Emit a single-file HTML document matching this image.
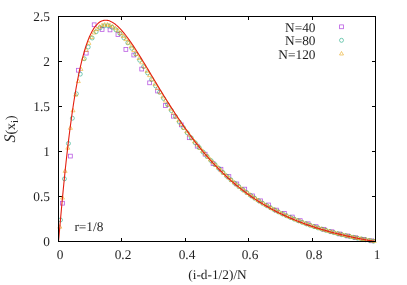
<!DOCTYPE html>
<html><head><meta charset="utf-8"><style>
html,body{margin:0;padding:0;background:#fff}
svg{display:block}
text{font-family:"Liberation Serif",serif;font-size:13.33px;fill:#000;fill-opacity:0.88;stroke:none;text-rendering:geometricPrecision;filter:grayscale(1)}
</style></head><body>
<svg width="407" height="285" viewBox="0 0 407 285">
<rect width="407" height="285" fill="#fff"/>
<g stroke="#000" stroke-width="1" fill="none">
<path d="M58.5,241.5 h3.5 M375.5,241.5 h-3.5"/>
<text x="50" y="246.4" text-anchor="end">0</text>
<path d="M58.5,196.5 h3.5 M375.5,196.5 h-3.5"/>
<text x="50" y="201.4" text-anchor="end">0.5</text>
<path d="M58.5,151.5 h3.5 M375.5,151.5 h-3.5"/>
<text x="50" y="156.4" text-anchor="end">1</text>
<path d="M58.5,106.5 h3.5 M375.5,106.5 h-3.5"/>
<text x="50" y="111.4" text-anchor="end">1.5</text>
<path d="M58.5,61.5 h3.5 M375.5,61.5 h-3.5"/>
<text x="50" y="66.4" text-anchor="end">2</text>
<path d="M58.5,16.5 h3.5 M375.5,16.5 h-3.5"/>
<text x="50" y="21.4" text-anchor="end">2.5</text>
<path d="M58.5,241.5 v-3.5 M58.5,16.5 v3.5"/>
<text x="60.0" y="259.2" text-anchor="middle">0</text>
<path d="M121.5,241.5 v-3.5 M121.5,16.5 v3.5"/>
<text x="123.0" y="259.2" text-anchor="middle">0.2</text>
<path d="M185.5,241.5 v-3.5 M185.5,16.5 v3.5"/>
<text x="187.0" y="259.2" text-anchor="middle">0.4</text>
<path d="M248.5,241.5 v-3.5 M248.5,16.5 v3.5"/>
<text x="250.0" y="259.2" text-anchor="middle">0.6</text>
<path d="M312.5,241.5 v-3.5 M312.5,16.5 v3.5"/>
<text x="314.0" y="259.2" text-anchor="middle">0.8</text>
<path d="M375.5,241.5 v-3.5 M375.5,16.5 v3.5"/>
<text x="377.0" y="259.2" text-anchor="middle">1</text>
</g>
<text x="315.5" y="31.6" text-anchor="end">N=40</text>
<text x="315.5" y="45.1" text-anchor="end">N=80</text>
<text x="315.5" y="58.6" text-anchor="end">N=120</text>
<g stroke-opacity="0.65"><rect x="339.60" y="24.90" width="3.8" height="3.8" fill="none" stroke="#9400D3" stroke-width="0.8"/>
<circle cx="341.50" cy="40.30" r="2.0" fill="none" stroke="#009E73" stroke-width="0.8"/>
<path d="M341.50,51.50 L343.50,55.00 L339.50,55.00 Z" fill="none" stroke="#E69F00" stroke-width="0.8"/></g>
<g stroke-opacity="0.65">
<rect x="60.56" y="201.30" width="3.8" height="3.8" fill="none" stroke="#9400D3" stroke-width="0.8"/>
<rect x="68.49" y="154.19" width="3.8" height="3.8" fill="none" stroke="#9400D3" stroke-width="0.8"/>
<rect x="76.41" y="68.33" width="3.8" height="3.8" fill="none" stroke="#9400D3" stroke-width="0.8"/>
<rect x="84.34" y="51.23" width="3.8" height="3.8" fill="none" stroke="#9400D3" stroke-width="0.8"/>
<rect x="92.26" y="22.88" width="3.8" height="3.8" fill="none" stroke="#9400D3" stroke-width="0.8"/>
<rect x="100.19" y="27.56" width="3.8" height="3.8" fill="none" stroke="#9400D3" stroke-width="0.8"/>
<rect x="108.11" y="28.01" width="3.8" height="3.8" fill="none" stroke="#9400D3" stroke-width="0.8"/>
<rect x="116.04" y="32.60" width="3.8" height="3.8" fill="none" stroke="#9400D3" stroke-width="0.8"/>
<rect x="123.96" y="47.54" width="3.8" height="3.8" fill="none" stroke="#9400D3" stroke-width="0.8"/>
<rect x="131.89" y="53.12" width="3.8" height="3.8" fill="none" stroke="#9400D3" stroke-width="0.8"/>
<rect x="139.81" y="67.16" width="3.8" height="3.8" fill="none" stroke="#9400D3" stroke-width="0.8"/>
<rect x="147.74" y="80.93" width="3.8" height="3.8" fill="none" stroke="#9400D3" stroke-width="0.8"/>
<rect x="155.66" y="89.12" width="3.8" height="3.8" fill="none" stroke="#9400D3" stroke-width="0.8"/>
<rect x="163.59" y="103.61" width="3.8" height="3.8" fill="none" stroke="#9400D3" stroke-width="0.8"/>
<rect x="171.51" y="114.32" width="3.8" height="3.8" fill="none" stroke="#9400D3" stroke-width="0.8"/>
<rect x="179.44" y="122.96" width="3.8" height="3.8" fill="none" stroke="#9400D3" stroke-width="0.8"/>
<rect x="187.36" y="135.83" width="3.8" height="3.8" fill="none" stroke="#9400D3" stroke-width="0.8"/>
<rect x="195.29" y="144.29" width="3.8" height="3.8" fill="none" stroke="#9400D3" stroke-width="0.8"/>
<rect x="203.21" y="152.30" width="3.8" height="3.8" fill="none" stroke="#9400D3" stroke-width="0.8"/>
<rect x="211.14" y="161.66" width="3.8" height="3.8" fill="none" stroke="#9400D3" stroke-width="0.8"/>
<rect x="219.06" y="167.33" width="3.8" height="3.8" fill="none" stroke="#9400D3" stroke-width="0.8"/>
<rect x="226.99" y="174.62" width="3.8" height="3.8" fill="none" stroke="#9400D3" stroke-width="0.8"/>
<rect x="234.91" y="182.00" width="3.8" height="3.8" fill="none" stroke="#9400D3" stroke-width="0.8"/>
<rect x="242.84" y="187.22" width="3.8" height="3.8" fill="none" stroke="#9400D3" stroke-width="0.8"/>
<rect x="250.76" y="193.97" width="3.8" height="3.8" fill="none" stroke="#9400D3" stroke-width="0.8"/>
<rect x="258.69" y="198.92" width="3.8" height="3.8" fill="none" stroke="#9400D3" stroke-width="0.8"/>
<rect x="266.61" y="203.06" width="3.8" height="3.8" fill="none" stroke="#9400D3" stroke-width="0.8"/>
<rect x="274.54" y="208.19" width="3.8" height="3.8" fill="none" stroke="#9400D3" stroke-width="0.8"/>
<rect x="282.46" y="211.43" width="3.8" height="3.8" fill="none" stroke="#9400D3" stroke-width="0.8"/>
<rect x="290.39" y="215.12" width="3.8" height="3.8" fill="none" stroke="#9400D3" stroke-width="0.8"/>
<rect x="298.31" y="218.72" width="3.8" height="3.8" fill="none" stroke="#9400D3" stroke-width="0.8"/>
<rect x="306.24" y="221.86" width="3.8" height="3.8" fill="none" stroke="#9400D3" stroke-width="0.8"/>
<rect x="314.16" y="224.74" width="3.8" height="3.8" fill="none" stroke="#9400D3" stroke-width="0.8"/>
<rect x="322.09" y="227.38" width="3.8" height="3.8" fill="none" stroke="#9400D3" stroke-width="0.8"/>
<rect x="330.01" y="229.83" width="3.8" height="3.8" fill="none" stroke="#9400D3" stroke-width="0.8"/>
<rect x="337.94" y="232.08" width="3.8" height="3.8" fill="none" stroke="#9400D3" stroke-width="0.8"/>
<rect x="345.86" y="234.08" width="3.8" height="3.8" fill="none" stroke="#9400D3" stroke-width="0.8"/>
<rect x="353.79" y="235.83" width="3.8" height="3.8" fill="none" stroke="#9400D3" stroke-width="0.8"/>
<rect x="361.71" y="237.44" width="3.8" height="3.8" fill="none" stroke="#9400D3" stroke-width="0.8"/>
<rect x="369.64" y="238.92" width="3.8" height="3.8" fill="none" stroke="#9400D3" stroke-width="0.8"/>
<circle cx="60.48" cy="219.95" r="2.0" fill="none" stroke="#009E73" stroke-width="0.8"/>
<circle cx="64.44" cy="178.86" r="2.0" fill="none" stroke="#009E73" stroke-width="0.8"/>
<circle cx="68.41" cy="143.49" r="2.0" fill="none" stroke="#009E73" stroke-width="0.8"/>
<circle cx="72.37" cy="118.19" r="2.0" fill="none" stroke="#009E73" stroke-width="0.8"/>
<circle cx="76.33" cy="93.77" r="2.0" fill="none" stroke="#009E73" stroke-width="0.8"/>
<circle cx="80.29" cy="74.11" r="2.0" fill="none" stroke="#009E73" stroke-width="0.8"/>
<circle cx="84.26" cy="58.71" r="2.0" fill="none" stroke="#009E73" stroke-width="0.8"/>
<circle cx="88.22" cy="47.00" r="2.0" fill="none" stroke="#009E73" stroke-width="0.8"/>
<circle cx="92.18" cy="38.00" r="2.0" fill="none" stroke="#009E73" stroke-width="0.8"/>
<circle cx="96.14" cy="31.74" r="2.0" fill="none" stroke="#009E73" stroke-width="0.8"/>
<circle cx="100.11" cy="27.83" r="2.0" fill="none" stroke="#009E73" stroke-width="0.8"/>
<circle cx="104.07" cy="25.91" r="2.0" fill="none" stroke="#009E73" stroke-width="0.8"/>
<circle cx="108.03" cy="25.82" r="2.0" fill="none" stroke="#009E73" stroke-width="0.8"/>
<circle cx="111.99" cy="27.26" r="2.0" fill="none" stroke="#009E73" stroke-width="0.8"/>
<circle cx="115.96" cy="29.88" r="2.0" fill="none" stroke="#009E73" stroke-width="0.8"/>
<circle cx="119.92" cy="33.46" r="2.0" fill="none" stroke="#009E73" stroke-width="0.8"/>
<circle cx="123.88" cy="37.82" r="2.0" fill="none" stroke="#009E73" stroke-width="0.8"/>
<circle cx="127.84" cy="42.80" r="2.0" fill="none" stroke="#009E73" stroke-width="0.8"/>
<circle cx="131.81" cy="48.27" r="2.0" fill="none" stroke="#009E73" stroke-width="0.8"/>
<circle cx="135.77" cy="54.12" r="2.0" fill="none" stroke="#009E73" stroke-width="0.8"/>
<circle cx="139.73" cy="60.23" r="2.0" fill="none" stroke="#009E73" stroke-width="0.8"/>
<circle cx="143.69" cy="66.53" r="2.0" fill="none" stroke="#009E73" stroke-width="0.8"/>
<circle cx="147.66" cy="72.95" r="2.0" fill="none" stroke="#009E73" stroke-width="0.8"/>
<circle cx="151.62" cy="79.43" r="2.0" fill="none" stroke="#009E73" stroke-width="0.8"/>
<circle cx="155.58" cy="85.85" r="2.0" fill="none" stroke="#009E73" stroke-width="0.8"/>
<circle cx="159.54" cy="92.17" r="2.0" fill="none" stroke="#009E73" stroke-width="0.8"/>
<circle cx="163.51" cy="98.42" r="2.0" fill="none" stroke="#009E73" stroke-width="0.8"/>
<circle cx="167.47" cy="104.57" r="2.0" fill="none" stroke="#009E73" stroke-width="0.8"/>
<circle cx="171.43" cy="110.59" r="2.0" fill="none" stroke="#009E73" stroke-width="0.8"/>
<circle cx="175.39" cy="116.46" r="2.0" fill="none" stroke="#009E73" stroke-width="0.8"/>
<circle cx="179.36" cy="122.10" r="2.0" fill="none" stroke="#009E73" stroke-width="0.8"/>
<circle cx="183.32" cy="127.56" r="2.0" fill="none" stroke="#009E73" stroke-width="0.8"/>
<circle cx="187.28" cy="132.83" r="2.0" fill="none" stroke="#009E73" stroke-width="0.8"/>
<circle cx="191.24" cy="137.92" r="2.0" fill="none" stroke="#009E73" stroke-width="0.8"/>
<circle cx="195.21" cy="142.83" r="2.0" fill="none" stroke="#009E73" stroke-width="0.8"/>
<circle cx="199.17" cy="147.54" r="2.0" fill="none" stroke="#009E73" stroke-width="0.8"/>
<circle cx="203.13" cy="152.09" r="2.0" fill="none" stroke="#009E73" stroke-width="0.8"/>
<circle cx="207.09" cy="156.44" r="2.0" fill="none" stroke="#009E73" stroke-width="0.8"/>
<circle cx="211.06" cy="160.60" r="2.0" fill="none" stroke="#009E73" stroke-width="0.8"/>
<circle cx="215.02" cy="164.58" r="2.0" fill="none" stroke="#009E73" stroke-width="0.8"/>
<circle cx="218.98" cy="168.53" r="2.0" fill="none" stroke="#009E73" stroke-width="0.8"/>
<circle cx="222.94" cy="172.46" r="2.0" fill="none" stroke="#009E73" stroke-width="0.8"/>
<circle cx="226.91" cy="176.21" r="2.0" fill="none" stroke="#009E73" stroke-width="0.8"/>
<circle cx="230.87" cy="179.80" r="2.0" fill="none" stroke="#009E73" stroke-width="0.8"/>
<circle cx="234.83" cy="183.23" r="2.0" fill="none" stroke="#009E73" stroke-width="0.8"/>
<circle cx="238.79" cy="186.50" r="2.0" fill="none" stroke="#009E73" stroke-width="0.8"/>
<circle cx="242.76" cy="189.62" r="2.0" fill="none" stroke="#009E73" stroke-width="0.8"/>
<circle cx="246.72" cy="192.60" r="2.0" fill="none" stroke="#009E73" stroke-width="0.8"/>
<circle cx="250.68" cy="195.44" r="2.0" fill="none" stroke="#009E73" stroke-width="0.8"/>
<circle cx="254.64" cy="198.15" r="2.0" fill="none" stroke="#009E73" stroke-width="0.8"/>
<circle cx="258.61" cy="200.73" r="2.0" fill="none" stroke="#009E73" stroke-width="0.8"/>
<circle cx="262.57" cy="203.19" r="2.0" fill="none" stroke="#009E73" stroke-width="0.8"/>
<circle cx="266.53" cy="205.53" r="2.0" fill="none" stroke="#009E73" stroke-width="0.8"/>
<circle cx="270.49" cy="207.77" r="2.0" fill="none" stroke="#009E73" stroke-width="0.8"/>
<circle cx="274.46" cy="209.90" r="2.0" fill="none" stroke="#009E73" stroke-width="0.8"/>
<circle cx="278.42" cy="211.92" r="2.0" fill="none" stroke="#009E73" stroke-width="0.8"/>
<circle cx="282.38" cy="213.86" r="2.0" fill="none" stroke="#009E73" stroke-width="0.8"/>
<circle cx="286.34" cy="215.70" r="2.0" fill="none" stroke="#009E73" stroke-width="0.8"/>
<circle cx="290.31" cy="217.45" r="2.0" fill="none" stroke="#009E73" stroke-width="0.8"/>
<circle cx="294.27" cy="219.13" r="2.0" fill="none" stroke="#009E73" stroke-width="0.8"/>
<circle cx="298.23" cy="220.75" r="2.0" fill="none" stroke="#009E73" stroke-width="0.8"/>
<circle cx="302.19" cy="222.32" r="2.0" fill="none" stroke="#009E73" stroke-width="0.8"/>
<circle cx="306.16" cy="223.82" r="2.0" fill="none" stroke="#009E73" stroke-width="0.8"/>
<circle cx="310.12" cy="225.25" r="2.0" fill="none" stroke="#009E73" stroke-width="0.8"/>
<circle cx="314.08" cy="226.62" r="2.0" fill="none" stroke="#009E73" stroke-width="0.8"/>
<circle cx="318.04" cy="227.93" r="2.0" fill="none" stroke="#009E73" stroke-width="0.8"/>
<circle cx="322.01" cy="229.19" r="2.0" fill="none" stroke="#009E73" stroke-width="0.8"/>
<circle cx="325.97" cy="230.39" r="2.0" fill="none" stroke="#009E73" stroke-width="0.8"/>
<circle cx="329.93" cy="231.54" r="2.0" fill="none" stroke="#009E73" stroke-width="0.8"/>
<circle cx="333.89" cy="232.65" r="2.0" fill="none" stroke="#009E73" stroke-width="0.8"/>
<circle cx="337.86" cy="233.71" r="2.0" fill="none" stroke="#009E73" stroke-width="0.8"/>
<circle cx="341.82" cy="234.68" r="2.0" fill="none" stroke="#009E73" stroke-width="0.8"/>
<circle cx="345.78" cy="235.62" r="2.0" fill="none" stroke="#009E73" stroke-width="0.8"/>
<circle cx="349.74" cy="236.51" r="2.0" fill="none" stroke="#009E73" stroke-width="0.8"/>
<circle cx="353.71" cy="237.38" r="2.0" fill="none" stroke="#009E73" stroke-width="0.8"/>
<circle cx="357.67" cy="238.20" r="2.0" fill="none" stroke="#009E73" stroke-width="0.8"/>
<circle cx="361.63" cy="239.00" r="2.0" fill="none" stroke="#009E73" stroke-width="0.8"/>
<circle cx="365.59" cy="239.76" r="2.0" fill="none" stroke="#009E73" stroke-width="0.8"/>
<circle cx="369.56" cy="240.49" r="2.0" fill="none" stroke="#009E73" stroke-width="0.8"/>
<circle cx="373.52" cy="241.18" r="2.0" fill="none" stroke="#009E73" stroke-width="0.8"/>
<path d="M59.82,224.66 L61.82,228.16 L57.82,228.16 Z" fill="none" stroke="#E69F00" stroke-width="0.8"/>
<path d="M62.46,195.58 L64.46,199.08 L60.46,199.08 Z" fill="none" stroke="#E69F00" stroke-width="0.8"/>
<path d="M65.10,168.87 L67.10,172.37 L63.10,172.37 Z" fill="none" stroke="#E69F00" stroke-width="0.8"/>
<path d="M67.75,145.71 L69.75,149.21 L65.75,149.21 Z" fill="none" stroke="#E69F00" stroke-width="0.8"/>
<path d="M70.39,125.80 L72.39,129.30 L68.39,129.30 Z" fill="none" stroke="#E69F00" stroke-width="0.8"/>
<path d="M73.03,108.34 L75.03,111.84 L71.03,111.84 Z" fill="none" stroke="#E69F00" stroke-width="0.8"/>
<path d="M75.67,92.63 L77.67,96.13 L73.67,96.13 Z" fill="none" stroke="#E69F00" stroke-width="0.8"/>
<path d="M78.31,79.11 L80.31,82.61 L76.31,82.61 Z" fill="none" stroke="#E69F00" stroke-width="0.8"/>
<path d="M80.95,66.94 L82.95,70.44 L78.95,70.44 Z" fill="none" stroke="#E69F00" stroke-width="0.8"/>
<path d="M83.60,56.63 L85.60,60.13 L81.60,60.13 Z" fill="none" stroke="#E69F00" stroke-width="0.8"/>
<path d="M86.24,48.00 L88.24,51.50 L84.24,51.50 Z" fill="none" stroke="#E69F00" stroke-width="0.8"/>
<path d="M88.88,40.90 L90.88,44.40 L86.88,44.40 Z" fill="none" stroke="#E69F00" stroke-width="0.8"/>
<path d="M91.52,35.09 L93.52,38.59 L89.52,38.59 Z" fill="none" stroke="#E69F00" stroke-width="0.8"/>
<path d="M94.16,30.52 L96.16,34.02 L92.16,34.02 Z" fill="none" stroke="#E69F00" stroke-width="0.8"/>
<path d="M96.80,27.09 L98.80,30.59 L94.80,30.59 Z" fill="none" stroke="#E69F00" stroke-width="0.8"/>
<path d="M99.45,24.67 L101.45,28.17 L97.45,28.17 Z" fill="none" stroke="#E69F00" stroke-width="0.8"/>
<path d="M102.09,23.17 L104.09,26.67 L100.09,26.67 Z" fill="none" stroke="#E69F00" stroke-width="0.8"/>
<path d="M104.73,22.47 L106.73,25.97 L102.73,25.97 Z" fill="none" stroke="#E69F00" stroke-width="0.8"/>
<path d="M107.37,22.51 L109.37,26.01 L105.37,26.01 Z" fill="none" stroke="#E69F00" stroke-width="0.8"/>
<path d="M110.01,23.19 L112.01,26.69 L108.01,26.69 Z" fill="none" stroke="#E69F00" stroke-width="0.8"/>
<path d="M112.65,24.45 L114.65,27.95 L110.65,27.95 Z" fill="none" stroke="#E69F00" stroke-width="0.8"/>
<path d="M115.30,26.21 L117.30,29.71 L113.30,29.71 Z" fill="none" stroke="#E69F00" stroke-width="0.8"/>
<path d="M117.94,28.41 L119.94,31.91 L115.94,31.91 Z" fill="none" stroke="#E69F00" stroke-width="0.8"/>
<path d="M120.58,30.99 L122.58,34.49 L118.58,34.49 Z" fill="none" stroke="#E69F00" stroke-width="0.8"/>
<path d="M123.22,33.91 L125.22,37.41 L121.22,37.41 Z" fill="none" stroke="#E69F00" stroke-width="0.8"/>
<path d="M125.86,37.12 L127.86,40.62 L123.86,40.62 Z" fill="none" stroke="#E69F00" stroke-width="0.8"/>
<path d="M128.50,40.57 L130.50,44.07 L126.50,44.07 Z" fill="none" stroke="#E69F00" stroke-width="0.8"/>
<path d="M131.15,44.23 L133.15,47.73 L129.15,47.73 Z" fill="none" stroke="#E69F00" stroke-width="0.8"/>
<path d="M133.79,48.06 L135.79,51.56 L131.79,51.56 Z" fill="none" stroke="#E69F00" stroke-width="0.8"/>
<path d="M136.43,52.03 L138.43,55.53 L134.43,55.53 Z" fill="none" stroke="#E69F00" stroke-width="0.8"/>
<path d="M139.07,56.12 L141.07,59.62 L137.07,59.62 Z" fill="none" stroke="#E69F00" stroke-width="0.8"/>
<path d="M141.71,60.30 L143.71,63.80 L139.71,63.80 Z" fill="none" stroke="#E69F00" stroke-width="0.8"/>
<path d="M144.35,64.54 L146.35,68.04 L142.35,68.04 Z" fill="none" stroke="#E69F00" stroke-width="0.8"/>
<path d="M147.00,68.83 L149.00,72.33 L145.00,72.33 Z" fill="none" stroke="#E69F00" stroke-width="0.8"/>
<path d="M149.64,73.15 L151.64,76.65 L147.64,76.65 Z" fill="none" stroke="#E69F00" stroke-width="0.8"/>
<path d="M152.28,77.48 L154.28,80.98 L150.28,80.98 Z" fill="none" stroke="#E69F00" stroke-width="0.8"/>
<path d="M154.92,81.78 L156.92,85.28 L152.92,85.28 Z" fill="none" stroke="#E69F00" stroke-width="0.8"/>
<path d="M157.56,86.03 L159.56,89.53 L155.56,89.53 Z" fill="none" stroke="#E69F00" stroke-width="0.8"/>
<path d="M160.20,90.25 L162.20,93.75 L158.20,93.75 Z" fill="none" stroke="#E69F00" stroke-width="0.8"/>
<path d="M162.85,94.44 L164.85,97.94 L160.85,97.94 Z" fill="none" stroke="#E69F00" stroke-width="0.8"/>
<path d="M165.49,98.59 L167.49,102.09 L163.49,102.09 Z" fill="none" stroke="#E69F00" stroke-width="0.8"/>
<path d="M168.13,102.68 L170.13,106.18 L166.13,106.18 Z" fill="none" stroke="#E69F00" stroke-width="0.8"/>
<path d="M170.77,106.71 L172.77,110.21 L168.77,110.21 Z" fill="none" stroke="#E69F00" stroke-width="0.8"/>
<path d="M173.41,110.68 L175.41,114.18 L171.41,114.18 Z" fill="none" stroke="#E69F00" stroke-width="0.8"/>
<path d="M176.05,114.58 L178.05,118.08 L174.05,118.08 Z" fill="none" stroke="#E69F00" stroke-width="0.8"/>
<path d="M178.70,118.37 L180.70,121.87 L176.70,121.87 Z" fill="none" stroke="#E69F00" stroke-width="0.8"/>
<path d="M181.34,122.08 L183.34,125.58 L179.34,125.58 Z" fill="none" stroke="#E69F00" stroke-width="0.8"/>
<path d="M183.98,125.71 L185.98,129.21 L181.98,129.21 Z" fill="none" stroke="#E69F00" stroke-width="0.8"/>
<path d="M186.62,129.26 L188.62,132.76 L184.62,132.76 Z" fill="none" stroke="#E69F00" stroke-width="0.8"/>
<path d="M189.26,132.73 L191.26,136.23 L187.26,136.23 Z" fill="none" stroke="#E69F00" stroke-width="0.8"/>
<path d="M191.90,136.11 L193.90,139.61 L189.90,139.61 Z" fill="none" stroke="#E69F00" stroke-width="0.8"/>
<path d="M194.55,139.41 L196.55,142.91 L192.55,142.91 Z" fill="none" stroke="#E69F00" stroke-width="0.8"/>
<path d="M197.19,142.63 L199.19,146.13 L195.19,146.13 Z" fill="none" stroke="#E69F00" stroke-width="0.8"/>
<path d="M199.83,145.77 L201.83,149.27 L197.83,149.27 Z" fill="none" stroke="#E69F00" stroke-width="0.8"/>
<path d="M202.47,148.84 L204.47,152.34 L200.47,152.34 Z" fill="none" stroke="#E69F00" stroke-width="0.8"/>
<path d="M205.11,151.82 L207.11,155.32 L203.11,155.32 Z" fill="none" stroke="#E69F00" stroke-width="0.8"/>
<path d="M207.75,154.71 L209.75,158.21 L205.75,158.21 Z" fill="none" stroke="#E69F00" stroke-width="0.8"/>
<path d="M210.40,157.53 L212.40,161.03 L208.40,161.03 Z" fill="none" stroke="#E69F00" stroke-width="0.8"/>
<path d="M213.04,160.26 L215.04,163.76 L211.04,163.76 Z" fill="none" stroke="#E69F00" stroke-width="0.8"/>
<path d="M215.68,162.91 L217.68,166.41 L213.68,166.41 Z" fill="none" stroke="#E69F00" stroke-width="0.8"/>
<path d="M218.32,165.56 L220.32,169.06 L216.32,169.06 Z" fill="none" stroke="#E69F00" stroke-width="0.8"/>
<path d="M220.96,168.21 L222.96,171.71 L218.96,171.71 Z" fill="none" stroke="#E69F00" stroke-width="0.8"/>
<path d="M223.60,170.79 L225.60,174.29 L221.60,174.29 Z" fill="none" stroke="#E69F00" stroke-width="0.8"/>
<path d="M226.25,173.30 L228.25,176.80 L224.25,176.80 Z" fill="none" stroke="#E69F00" stroke-width="0.8"/>
<path d="M228.89,175.73 L230.89,179.23 L226.89,179.23 Z" fill="none" stroke="#E69F00" stroke-width="0.8"/>
<path d="M231.53,178.08 L233.53,181.58 L229.53,181.58 Z" fill="none" stroke="#E69F00" stroke-width="0.8"/>
<path d="M234.17,180.37 L236.17,183.87 L232.17,183.87 Z" fill="none" stroke="#E69F00" stroke-width="0.8"/>
<path d="M236.81,182.58 L238.81,186.08 L234.81,186.08 Z" fill="none" stroke="#E69F00" stroke-width="0.8"/>
<path d="M239.45,184.73 L241.45,188.23 L237.45,188.23 Z" fill="none" stroke="#E69F00" stroke-width="0.8"/>
<path d="M242.10,186.81 L244.10,190.31 L240.10,190.31 Z" fill="none" stroke="#E69F00" stroke-width="0.8"/>
<path d="M244.74,188.83 L246.74,192.33 L242.74,192.33 Z" fill="none" stroke="#E69F00" stroke-width="0.8"/>
<path d="M247.38,190.78 L249.38,194.28 L245.38,194.28 Z" fill="none" stroke="#E69F00" stroke-width="0.8"/>
<path d="M250.02,192.68 L252.02,196.18 L248.02,196.18 Z" fill="none" stroke="#E69F00" stroke-width="0.8"/>
<path d="M252.66,194.51 L254.66,198.01 L250.66,198.01 Z" fill="none" stroke="#E69F00" stroke-width="0.8"/>
<path d="M255.30,196.29 L257.30,199.79 L253.30,199.79 Z" fill="none" stroke="#E69F00" stroke-width="0.8"/>
<path d="M257.95,198.01 L259.95,201.51 L255.95,201.51 Z" fill="none" stroke="#E69F00" stroke-width="0.8"/>
<path d="M260.59,199.67 L262.59,203.17 L258.59,203.17 Z" fill="none" stroke="#E69F00" stroke-width="0.8"/>
<path d="M263.23,201.29 L265.23,204.79 L261.23,204.79 Z" fill="none" stroke="#E69F00" stroke-width="0.8"/>
<path d="M265.87,202.85 L267.87,206.35 L263.87,206.35 Z" fill="none" stroke="#E69F00" stroke-width="0.8"/>
<path d="M268.51,204.36 L270.51,207.86 L266.51,207.86 Z" fill="none" stroke="#E69F00" stroke-width="0.8"/>
<path d="M271.15,205.83 L273.15,209.33 L269.15,209.33 Z" fill="none" stroke="#E69F00" stroke-width="0.8"/>
<path d="M273.80,207.25 L275.80,210.75 L271.80,210.75 Z" fill="none" stroke="#E69F00" stroke-width="0.8"/>
<path d="M276.44,208.62 L278.44,212.12 L274.44,212.12 Z" fill="none" stroke="#E69F00" stroke-width="0.8"/>
<path d="M279.08,209.95 L281.08,213.45 L277.08,213.45 Z" fill="none" stroke="#E69F00" stroke-width="0.8"/>
<path d="M281.72,211.24 L283.72,214.74 L279.72,214.74 Z" fill="none" stroke="#E69F00" stroke-width="0.8"/>
<path d="M284.36,212.49 L286.36,215.99 L282.36,215.99 Z" fill="none" stroke="#E69F00" stroke-width="0.8"/>
<path d="M287.00,213.70 L289.00,217.20 L285.00,217.20 Z" fill="none" stroke="#E69F00" stroke-width="0.8"/>
<path d="M289.65,214.87 L291.65,218.37 L287.65,218.37 Z" fill="none" stroke="#E69F00" stroke-width="0.8"/>
<path d="M292.29,216.00 L294.29,219.50 L290.29,219.50 Z" fill="none" stroke="#E69F00" stroke-width="0.8"/>
<path d="M294.93,217.10 L296.93,220.60 L292.93,220.60 Z" fill="none" stroke="#E69F00" stroke-width="0.8"/>
<path d="M297.57,218.18 L299.57,221.68 L295.57,221.68 Z" fill="none" stroke="#E69F00" stroke-width="0.8"/>
<path d="M300.21,219.24 L302.21,222.74 L298.21,222.74 Z" fill="none" stroke="#E69F00" stroke-width="0.8"/>
<path d="M302.85,220.27 L304.85,223.77 L300.85,223.77 Z" fill="none" stroke="#E69F00" stroke-width="0.8"/>
<path d="M305.50,221.27 L307.50,224.77 L303.50,224.77 Z" fill="none" stroke="#E69F00" stroke-width="0.8"/>
<path d="M308.14,222.24 L310.14,225.74 L306.14,225.74 Z" fill="none" stroke="#E69F00" stroke-width="0.8"/>
<path d="M310.78,223.18 L312.78,226.68 L308.78,226.68 Z" fill="none" stroke="#E69F00" stroke-width="0.8"/>
<path d="M313.42,224.10 L315.42,227.60 L311.42,227.60 Z" fill="none" stroke="#E69F00" stroke-width="0.8"/>
<path d="M316.06,224.99 L318.06,228.49 L314.06,228.49 Z" fill="none" stroke="#E69F00" stroke-width="0.8"/>
<path d="M318.70,225.85 L320.70,229.35 L316.70,229.35 Z" fill="none" stroke="#E69F00" stroke-width="0.8"/>
<path d="M321.35,226.68 L323.35,230.18 L319.35,230.18 Z" fill="none" stroke="#E69F00" stroke-width="0.8"/>
<path d="M323.99,227.50 L325.99,231.00 L321.99,231.00 Z" fill="none" stroke="#E69F00" stroke-width="0.8"/>
<path d="M326.63,228.29 L328.63,231.79 L324.63,231.79 Z" fill="none" stroke="#E69F00" stroke-width="0.8"/>
<path d="M329.27,229.06 L331.27,232.56 L327.27,232.56 Z" fill="none" stroke="#E69F00" stroke-width="0.8"/>
<path d="M331.91,229.80 L333.91,233.30 L329.91,233.30 Z" fill="none" stroke="#E69F00" stroke-width="0.8"/>
<path d="M334.55,230.53 L336.55,234.03 L332.55,234.03 Z" fill="none" stroke="#E69F00" stroke-width="0.8"/>
<path d="M337.20,231.24 L339.20,234.74 L335.20,234.74 Z" fill="none" stroke="#E69F00" stroke-width="0.8"/>
<path d="M339.84,231.90 L341.84,235.40 L337.84,235.40 Z" fill="none" stroke="#E69F00" stroke-width="0.8"/>
<path d="M342.48,232.54 L344.48,236.04 L340.48,236.04 Z" fill="none" stroke="#E69F00" stroke-width="0.8"/>
<path d="M345.12,233.16 L347.12,236.66 L343.12,236.66 Z" fill="none" stroke="#E69F00" stroke-width="0.8"/>
<path d="M347.76,233.77 L349.76,237.27 L345.76,237.27 Z" fill="none" stroke="#E69F00" stroke-width="0.8"/>
<path d="M350.40,234.36 L352.40,237.86 L348.40,237.86 Z" fill="none" stroke="#E69F00" stroke-width="0.8"/>
<path d="M353.05,234.93 L355.05,238.43 L351.05,238.43 Z" fill="none" stroke="#E69F00" stroke-width="0.8"/>
<path d="M355.69,235.49 L357.69,238.99 L353.69,238.99 Z" fill="none" stroke="#E69F00" stroke-width="0.8"/>
<path d="M358.33,236.04 L360.33,239.54 L356.33,239.54 Z" fill="none" stroke="#E69F00" stroke-width="0.8"/>
<path d="M360.97,236.57 L362.97,240.07 L358.97,240.07 Z" fill="none" stroke="#E69F00" stroke-width="0.8"/>
<path d="M363.61,237.08 L365.61,240.58 L361.61,240.58 Z" fill="none" stroke="#E69F00" stroke-width="0.8"/>
<path d="M366.25,237.58 L368.25,241.08 L364.25,241.08 Z" fill="none" stroke="#E69F00" stroke-width="0.8"/>
<path d="M368.90,238.07 L370.90,241.57 L366.90,241.57 Z" fill="none" stroke="#E69F00" stroke-width="0.8"/>
<path d="M371.54,238.54 L373.54,242.04 L369.54,242.04 Z" fill="none" stroke="#E69F00" stroke-width="0.8"/>
<path d="M374.18,238.99 L376.18,242.49 L372.18,242.49 Z" fill="none" stroke="#E69F00" stroke-width="0.8"/>
</g>
<path d="M58.50,241.50 L59.04,235.77 L59.57,229.74 L60.11,223.68 L60.65,217.65 L61.19,211.69 L61.72,205.81 L62.26,200.02 L62.80,194.34 L63.34,188.76 L63.87,183.29 L64.41,177.93 L64.95,172.68 L65.48,167.54 L66.02,162.52 L66.56,157.61 L67.10,152.82 L67.63,148.13 L68.17,143.56 L68.71,139.09 L69.25,134.74 L69.78,130.49 L70.32,126.36 L70.86,122.32 L71.39,118.39 L71.93,114.57 L72.47,110.84 L73.01,107.21 L73.54,103.69 L74.08,100.26 L74.62,96.92 L75.16,93.68 L75.69,90.53 L76.23,87.47 L76.77,84.51 L77.31,81.63 L77.84,78.83 L78.38,76.12 L78.92,73.50 L79.45,70.95 L79.99,68.49 L80.53,66.10 L81.07,63.80 L81.60,61.57 L82.14,59.41 L82.68,57.33 L83.22,55.32 L83.75,53.38 L84.29,51.50 L84.83,49.70 L85.36,47.97 L85.90,46.29 L86.44,44.69 L86.98,43.14 L87.51,41.66 L88.05,40.24 L88.59,38.88 L89.13,37.57 L89.66,36.32 L90.20,35.13 L91.15,33.15 L92.11,31.33 L93.06,29.67 L94.02,28.17 L94.97,26.81 L95.93,25.60 L96.88,24.52 L97.83,23.57 L98.79,22.76 L99.74,22.06 L100.70,21.48 L101.65,21.02 L102.60,20.66 L103.56,20.41 L104.51,20.25 L105.47,20.19 L106.42,20.23 L107.38,20.35 L108.33,20.55 L109.28,20.84 L110.24,21.20 L111.19,21.63 L112.15,22.14 L113.10,22.71 L114.05,23.35 L115.01,24.05 L115.96,24.81 L116.92,25.62 L117.87,26.48 L118.83,27.40 L119.78,28.36 L120.73,29.37 L121.69,30.42 L122.64,31.52 L123.60,32.65 L124.55,33.82 L125.50,35.02 L126.46,36.25 L127.41,37.52 L128.37,38.82 L129.32,40.14 L130.28,41.49 L131.23,42.86 L132.18,44.26 L133.14,45.67 L134.09,47.11 L135.05,48.56 L136.00,50.03 L136.95,51.52 L137.91,53.02 L138.86,54.53 L139.82,56.05 L140.77,57.59 L141.73,59.13 L142.68,60.69 L143.63,62.25 L144.59,63.82 L145.54,65.39 L146.50,66.97 L147.45,68.55 L148.41,70.14 L149.36,71.73 L150.31,73.32 L151.27,74.91 L152.22,76.50 L153.18,78.09 L154.13,79.68 L155.08,81.27 L156.04,82.86 L156.99,84.44 L157.95,86.03 L158.90,87.60 L159.86,89.18 L160.81,90.75 L161.76,92.31 L162.72,93.87 L163.67,95.43 L164.63,96.97 L165.58,98.51 L166.53,100.05 L167.49,101.57 L168.44,103.09 L169.40,104.61 L170.35,106.11 L171.31,107.61 L172.26,109.09 L173.21,110.57 L174.17,112.04 L175.12,113.50 L176.08,114.95 L177.03,116.39 L177.98,117.83 L178.94,119.25 L179.89,120.66 L180.85,122.06 L181.80,123.45 L182.76,124.84 L183.71,126.21 L184.66,127.57 L185.62,128.92 L186.57,130.26 L187.53,131.59 L188.48,132.90 L189.43,134.21 L190.39,135.51 L191.34,136.79 L192.30,138.07 L193.25,139.33 L194.21,140.58 L195.16,141.82 L196.11,143.05 L197.07,144.27 L198.02,145.48 L198.98,146.67 L199.93,147.86 L200.88,149.03 L201.84,150.20 L202.79,151.35 L203.75,152.49 L204.70,153.62 L205.66,154.74 L206.61,155.85 L207.56,156.95 L208.52,158.03 L209.47,159.11 L210.43,160.17 L211.38,161.23 L212.34,162.27 L213.29,163.30 L214.24,164.33 L215.20,165.34 L216.15,166.34 L217.11,167.33 L218.06,168.31 L219.01,169.28 L219.97,170.24 L220.92,171.19 L221.88,172.13 L222.83,173.06 L223.79,173.98 L224.74,174.89 L225.69,175.79 L226.65,176.68 L227.60,177.56 L228.56,178.43 L229.51,179.29 L230.46,180.15 L231.42,180.99 L232.37,181.82 L233.33,182.65 L234.28,183.46 L235.24,184.27 L236.19,185.06 L237.14,185.85 L238.10,186.63 L239.05,187.40 L240.01,188.16 L240.96,188.92 L241.91,189.66 L242.87,190.40 L243.82,191.13 L244.78,191.85 L245.73,192.56 L246.69,193.26 L247.64,193.96 L248.59,194.64 L249.55,195.32 L250.50,196.00 L251.46,196.66 L252.41,197.32 L253.36,197.97 L254.32,198.61 L255.27,199.24 L256.23,199.87 L257.18,200.49 L258.14,201.10 L259.09,201.71 L260.04,202.31 L261.00,202.90 L261.95,203.48 L262.91,204.06 L263.86,204.63 L264.82,205.20 L265.77,205.76 L266.72,206.31 L267.68,206.85 L268.63,207.39 L269.59,207.93 L270.54,208.45 L271.49,208.97 L272.45,209.49 L273.40,210.00 L274.36,210.50 L275.31,211.00 L276.27,211.49 L277.22,211.97 L278.17,212.45 L279.13,212.93 L280.08,213.39 L281.04,213.86 L281.99,214.32 L282.94,214.77 L283.90,215.22 L284.85,215.66 L285.81,216.10 L286.76,216.53 L287.72,216.96 L288.67,217.38 L289.62,217.80 L290.58,218.21 L291.53,218.62 L292.49,219.02 L293.44,219.42 L294.39,219.81 L295.35,220.20 L296.30,220.59 L297.26,220.97 L298.21,221.34 L299.17,221.72 L300.12,222.08 L301.07,222.45 L302.03,222.81 L302.98,223.16 L303.94,223.51 L304.89,223.86 L305.84,224.21 L306.80,224.55 L307.75,224.88 L308.71,225.21 L309.66,225.54 L310.62,225.87 L311.57,226.19 L312.52,226.51 L313.48,226.82 L314.43,227.13 L315.39,227.44 L316.34,227.74 L317.29,228.04 L318.25,228.34 L319.20,228.64 L320.16,228.93 L321.11,229.22 L322.07,229.50 L323.02,229.78 L323.97,230.06 L324.93,230.34 L325.88,230.61 L326.84,230.88 L327.79,231.15 L328.75,231.41 L329.70,231.67 L330.65,231.93 L331.61,232.18 L332.56,232.44 L333.52,232.69 L334.47,232.94 L335.42,233.18 L336.38,233.42 L337.33,233.66 L338.29,233.90 L339.24,234.14 L340.20,234.37 L341.15,234.60 L342.10,234.83 L343.06,235.05 L344.01,235.28 L344.97,235.50 L345.92,235.72 L346.87,235.94 L347.83,236.15 L348.78,236.36 L349.74,236.57 L350.69,236.78 L351.65,236.99 L352.60,237.19 L353.55,237.39 L354.51,237.59 L355.46,237.79 L356.42,237.99 L357.37,238.18 L358.32,238.38 L359.28,238.57 L360.23,238.76 L361.19,238.94 L362.14,239.13 L363.10,239.31 L364.05,239.49 L365.00,239.67 L365.96,239.85 L366.91,240.02 L367.87,240.20 L368.82,240.37 L369.77,240.54 L370.73,240.71 L371.68,240.87 L372.64,241.03 L373.59,241.19 L374.55,241.35 L375.50,241.50" fill="none" stroke="#E51E10" stroke-width="1.1" stroke-linejoin="round"/>
<rect x="58.5" y="16.5" width="317.0" height="225.0" fill="none" stroke="#000" stroke-width="1"/>
<text x="74.4" y="230.7">r=1/8</text>
<text x="217.5" y="279.2" text-anchor="middle">(i-d-1/2)/N</text>
<text transform="translate(15,129) rotate(-90)" text-anchor="middle" style="font-size:13.8px"><tspan font-style="italic" font-size="16px">S</tspan>(x<tspan font-size="10.8px" dy="2.8">i</tspan><tspan dy="-2.8">)</tspan></text>
</svg>
</body></html>
